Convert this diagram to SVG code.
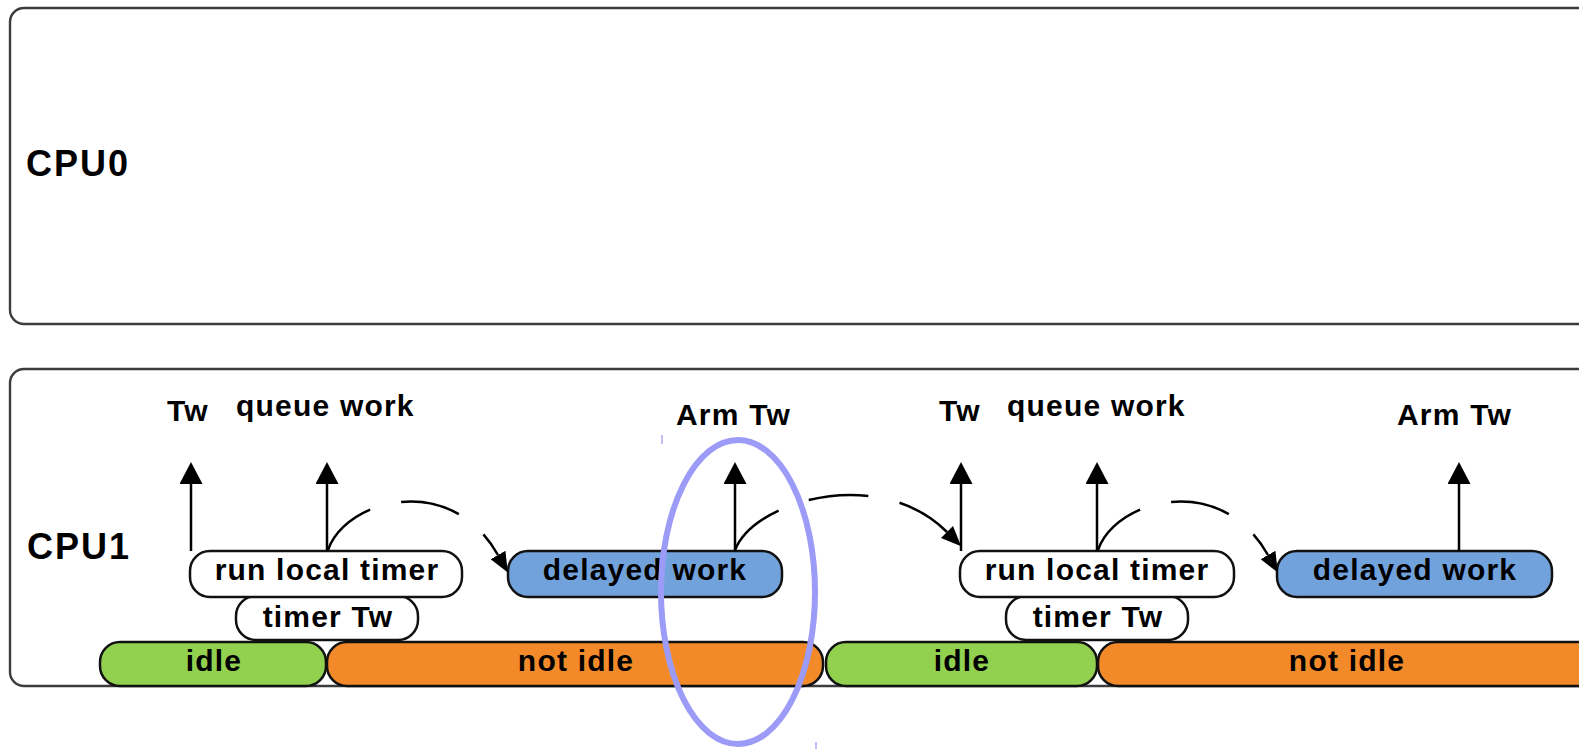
<svg xmlns="http://www.w3.org/2000/svg" width="1579" height="749" viewBox="0 0 1579 749">
<style>
.lane{fill:#fff;stroke:#3c3c3c;stroke-width:2.4}
.lbl{font-family:"Liberation Sans",Arial,sans-serif;font-weight:bold;fill:#000}
.cpu{font-size:36px;letter-spacing:2px}
.t{font-size:30px;letter-spacing:1.2px}
.c{text-anchor:middle}
.box{stroke:#111;stroke-width:2.5}
.white{fill:#fff}
.blue{fill:#72a2dc}
.green{fill:#92d050}
.orange{fill:#f28a2a}
.up{fill:none;stroke:#000;stroke-width:2.5;marker-end:url(#ah)}
.cv{fill:none;stroke:#000;stroke-width:2.5;stroke-dasharray:60 32;marker-end:url(#ah2)}
</style>
<defs>
<marker id="ah" markerWidth="22" markerHeight="23" refX="0" refY="11.5" orient="auto" markerUnits="userSpaceOnUse">
<path d="M0,0 L22,11.5 L0,23 z" fill="#000"/>
</marker>
<marker id="ah2" markerWidth="20" markerHeight="17" refX="0" refY="8.5" orient="auto" markerUnits="userSpaceOnUse">
<path d="M0,0 L20,8.5 L0,17 z" fill="#000"/>
</marker>
</defs>

<g id="cpu0">
<rect class="lane" x="10" y="8" width="1620" height="316" rx="14"/>
<text class="lbl cpu" x="26" y="176">CPU0</text>
</g>

<g id="cpu1">
<rect class="lane" x="10" y="369" width="1620" height="317" rx="14"/>
<text class="lbl cpu" x="27" y="559">CPU1</text>
</g>

<g id="idle1">
<rect class="box green" x="100" y="642" width="226" height="44" rx="20"/>
<text class="lbl t c" x="214" y="671">idle</text>
</g>
<g id="notidle1">
<rect class="box orange" x="327" y="642" width="496" height="44" rx="20"/>
<text class="lbl t c" x="576" y="671">not idle</text>
</g>
<g id="idle2">
<rect class="box green" x="826" y="642" width="271" height="44" rx="20"/>
<text class="lbl t c" x="962" y="671">idle</text>
</g>
<g id="notidle2">
<rect class="box orange" x="1098" y="642" width="540" height="44" rx="20"/>
<text class="lbl t c" x="1347" y="671">not idle</text>
</g>

<g id="timerTw1">
<rect class="box white" x="236" y="596" width="182" height="44" rx="20"/>
<text class="lbl t c" x="328" y="627">timer Tw</text>
</g>
<g id="runlocal1">
<rect class="box white" x="190" y="551" width="272" height="46" rx="20"/>
<text class="lbl t c" x="327" y="580">run local timer</text>
</g>
<g id="delayed1">
<rect class="box blue" x="508" y="551" width="274" height="46" rx="20"/>
<text class="lbl t c" x="645" y="580">delayed work</text>
</g>

<g id="timerTw2">
<rect class="box white" x="1006" y="596" width="182" height="44" rx="20"/>
<text class="lbl t c" x="1098" y="627">timer Tw</text>
</g>
<g id="runlocal2">
<rect class="box white" x="960" y="551" width="274" height="46" rx="20"/>
<text class="lbl t c" x="1097" y="580">run local timer</text>
</g>
<g id="delayed2">
<rect class="box blue" x="1277" y="551" width="275" height="46" rx="20"/>
<text class="lbl t c" x="1415" y="580">delayed work</text>
</g>

<g id="labels">
<text class="lbl t" x="167" y="421">Tw</text>
<text class="lbl t" x="236" y="416">queue work</text>
<text class="lbl t" x="676" y="425">Arm Tw</text>
<text class="lbl t" x="939" y="421">Tw</text>
<text class="lbl t" x="1007" y="416">queue work</text>
<text class="lbl t" x="1397" y="425">Arm Tw</text>
</g>

<g id="connectors">
<path class="up" d="M191,551 V484"/>
<path class="up" d="M327,551 V484"/>
<path class="up" d="M735,551 V484"/>
<path class="up" d="M961,551 V484"/>
<path class="up" d="M1097,551 V484"/>
<path class="up" d="M1459,551 V484"/>
<path class="cv" d="M328,550 C345,500 450,470 498,555"/>
<path class="cv" d="M735,550 C755,500 880,465 947,532"/>
<path class="cv" d="M1098,550 C1115,500 1220,470 1268,555"/>
</g>

<g id="highlight">
<ellipse cx="738" cy="592" rx="77" ry="152" fill="none" stroke="#9c9cf8" stroke-width="6"/>
<line x1="662" y1="435" x2="662" y2="444" stroke="#aaaaf4" stroke-width="1.5"/>
<line x1="816" y1="742" x2="816" y2="749" stroke="#aaaaf4" stroke-width="1.5"/>
</g>
</svg>
